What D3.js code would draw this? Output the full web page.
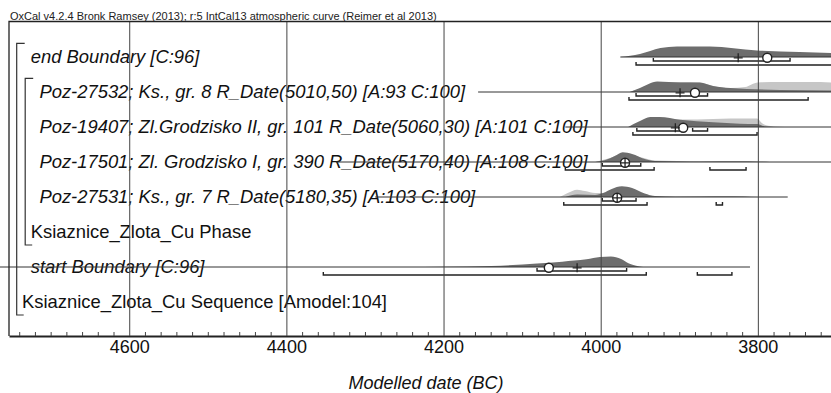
<!DOCTYPE html>
<html>
<head>
<meta charset="utf-8">
<script src="https://cdn.jsdelivr.net/npm/d3@7"></script>
<style>
  body { margin: 0; background: #fff; }
  svg { display: block; font-family: "Liberation Sans", Arial, sans-serif; }
</style>
</head>
<body>
<div id="chart"></div>
<script>
// rows, top to bottom
const labels = [
  "end Boundary [C:96]",
  "Poz-27532; Ks., gr. 8 R_Date(5010,50) [A:93 C:100]",
  "Poz-19407; Zl.Grodzisko II, gr. 101 R_Date(5060,30) [A:101 C:100]",
  "Poz-17501; Zl. Grodzisko I, gr. 390 R_Date(5170,40) [A:108 C:100]",
  "Poz-27531; Ks., gr. 7 R_Date(5180,35) [A:103 C:100]",
  "Ksiaznice_Zlota_Cu Phase",
  "start Boundary [C:96]",
  "Ksiaznice_Zlota_Cu Sequence [Amodel:104]"
];
const levels = [1, 2, 2, 2, 2, 1, 1, 0];
const italic = [true, true, true, true, true, false, true, false];

// extent of each row's baseline (years BC)
const lineRanges = [[3975, 3600], [4156, 3600], [4045, 3600], [4337, 3600], [4287, 3762], null, [4775, 3810], null];

// unmodelled (light) and modelled (dark) distributions, [year BC, relative prob]
const likelihoods = [
  null,
  [[3963, 0], [3944, 47], [3925, 84], [3899, 93], [3874, 89], [3857, 56], [3835, 37], [3816, 47], [3800, 89], [3772, 93], [3734, 93], [3707, 89], [3650, 56], [3600, 28]],
  [[3965, 0], [3944, 47], [3925, 65], [3899, 70], [3877, 70], [3857, 75], [3835, 79], [3801, 79], [3795, 37], [3784, 9], [3772, 3], [3760, 0]],
  [[4007, 0], [3988, 37], [3972, 79], [3950, 47], [3931, 14], [3874, 7], [3823, 9], [3801, 5], [3785, 0]],
  [[4052, 0], [4042, 37], [4030, 68], [4020, 56], [4007, 37], [3997, 37], [3982, 65], [3972, 84], [3960, 65], [3944, 28], [3931, 9], [3874, 3], [3852, 9], [3829, 9], [3810, 5], [3800, 0]],
  null, null, null
];
const posteriors = [
  [[3975, 0], [3950, 28], [3924, 84], [3903, 98], [3861, 98], [3801, 61], [3747, 47], [3707, 37], [3650, 23], [3600, 9]],
  [[3963, 0], [3950, 37], [3928, 98], [3899, 89], [3874, 89], [3857, 56], [3835, 37], [3814, 28], [3772, 19], [3707, 14], [3600, 5]],
  [[3965, 0], [3950, 56], [3937, 93], [3925, 93], [3899, 68], [3857, 44], [3823, 31], [3801, 28], [3791, 5], [3780, 0]],
  [[4007, 0], [3994, 19], [3982, 56], [3972, 91], [3960, 75], [3944, 28], [3931, 9], [3899, 5], [3874, 3], [3823, 5], [3801, 3], [3785, 0]],
  [[4045, 0], [4030, 23], [4007, 19], [3997, 37], [3986, 75], [3973, 100], [3960, 84], [3944, 33], [3931, 9], [3905, 3], [3848, 5], [3816, 3], [3800, 0]],
  null,
  [[4250, 0], [4200, 3], [4139, 9], [4081, 33], [4049, 50], [4018, 72], [4001, 93], [3987, 98], [3974, 75], [3964, 33], [3946, 0]],
  null
];
const medians = [3825, 3899, 3905, 3969, 3979, null, 4030, null];
const means = [3788, 3880, 3895, 3969, 3979, null, 4066, null];
const range68 = [[[3933, 3759]], [[3955, 3864]], [[3954, 3899], [3883, 3864]], [[3998, 3949]], [[3998, 3955]], [], [[4081, 3967]], []];
const range95 = [[[3955, 3650]], [[3964, 3736]], [[3959, 3801]], [[4045, 3932], [3861, 3815]], [[4047, 3941], [3853, 3845]], [], [[4353, 3942], [3877, 3833]], []];

const majorTicks = [4600, 4400, 4200, 4000, 3800];
const title = "OxCal v4.2.4 Bronk Ramsey (2013); r:5 IntCal13 atmospheric curve (Reimer et al 2013)";
const xTitle = "Modelled date (BC)";

const width = 831, height = 393;
const frameLeft = 9, frameTop = 21.5, frameBottom = 336;

const svg = d3.select("#chart").append("svg")
  .attr("width", width)
  .attr("height", height);

const x = d3.scaleLinear().domain([4753, 3600]).range([frameLeft, 915]);
const y = d3.scalePoint().domain(d3.range(labels.length)).range([57, 302]);
const h = d3.scaleLinear().domain([0, 100]).range([0, 10.7]);

const area = d3.area()
  .x(d => x(d[0]))
  .y0(0)
  .y1(d => -h(d[1]))
  .curve(d3.curveMonotoneX);

// labels
svg.append("g").selectAll("text")
  .data(labels)
  .join("text")
  .attr("x", (d, i) => 22 + levels[i] * 8.7)
  .attr("y", (d, i) => y(i) + 5.5)
  .attr("font-size", 18.4)
  .attr("font-style", (d, i) => italic[i] ? "italic" : "normal")
  .attr("fill", "#111")
  .text(d => d);

// distributions
const rowsG = svg.append("g").selectAll("g")
  .data(labels.map((d, i) => i))
  .join("g")
  .attr("transform", i => `translate(0,${y(i)})`);

rowsG.filter(i => likelihoods[i]).append("path")
  .attr("d", i => area(likelihoods[i]))
  .attr("fill", "#c6c6c6");

rowsG.filter(i => posteriors[i]).append("path")
  .attr("d", i => area(posteriors[i]))
  .attr("fill", "#6d6d6d");

rowsG.filter(i => lineRanges[i]).append("line")
  .attr("x1", i => x(lineRanges[i][0]))
  .attr("x2", i => x(lineRanges[i][1]))
  .attr("stroke", "#333")
  .attr("stroke-width", 1);

// range brackets
function brackets(sel, ranges, dy) {
  sel.each(function (i) {
    d3.select(this).selectAll(null)
      .data(ranges[i])
      .join("path")
      .attr("d", r => `M${x(r[0])},${dy - 3}V${dy}H${x(r[1])}V${dy - 3}`)
      .attr("fill", "none")
      .attr("stroke", "#222")
      .attr("stroke-width", 1.4);
  });
}
brackets(rowsG, range68, 4);
brackets(rowsG, range95, 8);

// median cross and mean circle
rowsG.filter(i => means[i] != null).append("circle")
  .attr("cx", i => x(means[i]))
  .attr("cy", 0.8)
  .attr("r", 4.5)
  .attr("fill", "#fff")
  .attr("stroke", "#222")
  .attr("stroke-width", 1.4);

rowsG.filter(i => medians[i] != null).append("path")
  .attr("d", i => `M${x(medians[i]) - 4.5},0.8H${x(medians[i]) + 4.5}M${x(medians[i])},-3.7V5.3`)
  .attr("stroke", "#222")
  .attr("stroke-width", 1.3);

// model structure brackets
const structure = [[0, 7, 0], [1, 5, 1]];
svg.append("g").selectAll("path")
  .data(structure)
  .join("path")
  .attr("d", s => {
    const bx = 16.7 + s[2] * 8.5;
    return `M${bx + 8},${y(s[0]) - 13.7}H${bx}V${y(s[1]) + 13}H${bx + 7}`;
  })
  .attr("fill", "none")
  .attr("stroke", "#333")
  .attr("stroke-width", 1.2);

// axis with full-height gridlines
const axisG = svg.append("g")
  .attr("transform", `translate(0,${frameBottom})`)
  .call(d3.axisBottom(x)
    .tickValues(majorTicks)
    .tickSize(-(frameBottom - frameTop))
    .tickSizeOuter(0)
    .tickPadding(4.5)
    .tickFormat(d3.format("d")));
axisG.select(".domain").attr("stroke", "#222").attr("stroke-width", 1.8);
axisG.selectAll(".tick line").attr("stroke", "#444").attr("stroke-width", 1);
axisG.selectAll(".tick text")
  .attr("font-size", 18)
  .attr("font-family", "Liberation Sans, Arial, sans-serif")
  .attr("fill", "#111");

const minorG = svg.append("g")
  .attr("transform", `translate(0,${frameBottom})`)
  .call(d3.axisBottom(x)
    .tickValues(d3.range(4740, 3600, -20).filter(v => v % 200 !== 0))
    .tickSize(-4)
    .tickFormat(""));
minorG.select(".domain").remove();
minorG.selectAll(".tick line").attr("stroke", "#444");

// frame
svg.append("path")
  .attr("d", `M${width},${frameTop}H${frameLeft}V${frameBottom}`)
  .attr("fill", "none")
  .attr("stroke", "#222")
  .attr("stroke-width", 1.3);

svg.append("text")
  .attr("x", 10)
  .attr("y", 20)
  .attr("font-size", 11)
  .attr("fill", "#222")
  .text(title);

svg.append("text")
  .attr("x", 426)
  .attr("y", 389)
  .attr("text-anchor", "middle")
  .attr("font-size", 18)
  .attr("font-style", "italic")
  .attr("fill", "#111")
  .text(xTitle);
</script>
</body>
</html>
